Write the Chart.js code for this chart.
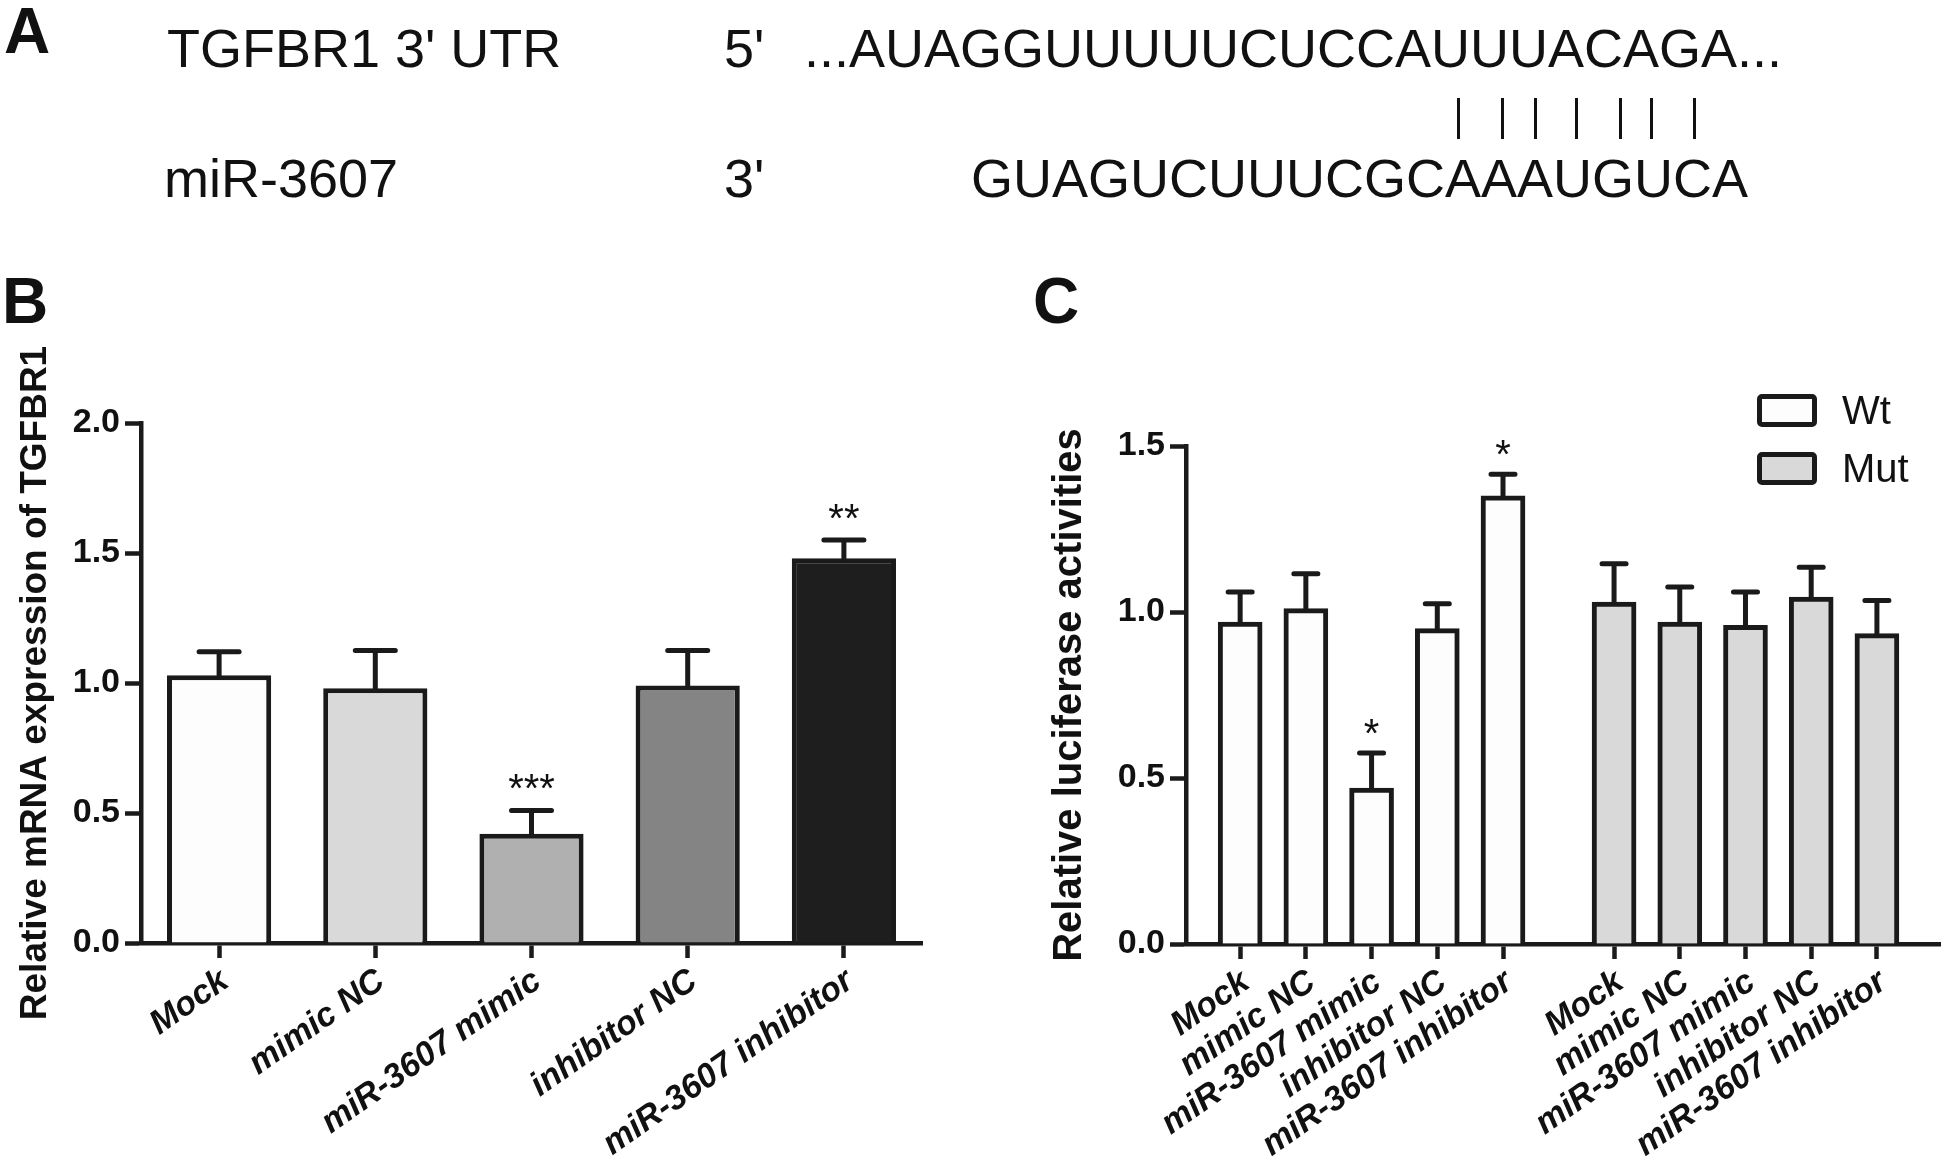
<!DOCTYPE html>
<html>
<head>
<meta charset="utf-8">
<title>miR-3607 / TGFBR1</title>
<script src="https://cdn.jsdelivr.net/npm/chart.js@4.4.1/dist/chart.umd.min.js"></script>
<style>
  html, body { margin: 0; padding: 0; background: #fff; }
  body { width: 1946px; height: 1175px; position: relative; overflow: hidden;
         font-family: "Liberation Sans", Arial, sans-serif; color: #111; }
  .abs { position: absolute; white-space: nowrap; line-height: 1; }
  .panel { font-weight: bold; font-size: 64px; }
  .seq { font-size: 54px; }
  .pair { position: absolute; width: 3px; height: 41px; background: #111; top: 98px; }
  .box { position: absolute; left: 1757px; width: 50px; height: 23px; border: 5px solid #1a1a1a; border-radius: 5px; }
  .legtext { font-family: "Liberation Sans Narrow", "Arial Narrow", "Liberation Sans", Arial, sans-serif; font-size: 40px; }
  .chartwrap { position: absolute; top: 320px; }
</style>
</head>
<body>

<!-- Panel A: binding site -->
<div class="abs panel" style="left:4px; top:-1px;">A</div>
<div class="abs seq" style="left:167px; top:21px;">TGFBR1 3' UTR</div>
<div class="abs seq" style="left:724px; top:21px;">5'</div>
<div class="abs seq" style="left:804px; top:21px;">...AUAGGUUUUUCUCCAUUUACAGA...</div>
<div class="pair" style="left:1457px;"></div>
<div class="pair" style="left:1501px;"></div>
<div class="pair" style="left:1534px;"></div>
<div class="pair" style="left:1575px;"></div>
<div class="pair" style="left:1619px;"></div>
<div class="pair" style="left:1650px;"></div>
<div class="pair" style="left:1693px;"></div>
<div class="abs seq" style="left:164px; top:151px;">miR-3607</div>
<div class="abs seq" style="left:724px; top:151px;">3'</div>
<div class="abs seq" style="left:971px; top:151px;">GUAGUCUUUCGCAAAUGUCA</div>

<!-- Panel letters -->
<div class="abs panel" style="left:2px; top:269px;">B</div>
<div class="abs panel" style="left:1033px; top:269px;">C</div>

<div class="chartwrap" style="left:0px;"><canvas id="chartB" width="960" height="855"></canvas></div>
<div class="chartwrap" style="left:1000px;"><canvas id="chartC" width="946" height="855"></canvas></div>

<!-- Legend for panel C -->
<div id="legendC"></div>

<script>
// ===========================
// Data
// ===========================

const groupLabels = ['Mock', 'mimic NC', 'miR-3607 mimic', 'inhibitor NC', 'miR-3607 inhibitor'];

// Panel B - relative mRNA expression of TGFBR1
const bMeans = [1.03, 0.98, 0.42, 0.99, 1.48];
const bErrors = [0.09, 0.145, 0.09, 0.135, 0.07];
const bSignif = ['', '', '***', '', '**'];
const bColors = ['#fdfdfd', '#d9d9d9', '#b0b0b0', '#848484', '#1e1e1e'];
const bTickValues = [0, 0.5, 1.0, 1.5, 2.0];

// Panel C - relative luciferase activities
const cSeriesNames = ['Wt', 'Mut'];
const cSeriesColors = ['#fdfdfd', '#d9d9d9'];
const cWtMeans = [0.97, 1.01, 0.47, 0.95, 1.35];
const cWtErrors = [0.09, 0.105, 0.105, 0.075, 0.065];
const cWtSignif = ['', '', '*', '', '*'];
const cMutMeans = [1.03, 0.97, 0.96, 1.045, 0.935];
const cMutErrors = [0.115, 0.105, 0.10, 0.09, 0.10];
const cMutSignif = ['', '', '', '', ''];
const cTickValues = [0, 0.5, 1.0, 1.5];

// ===========================
// Shared styling
// ===========================

const INK = '#1a1a1a';
const SANS = '"Liberation Sans", Arial, sans-serif';
const NARROW = '"Liberation Sans Narrow", "Arial Narrow", "Liberation Sans", Arial, sans-serif';
const GROUP_GAP = 0.69;   // extra space between the Wt and Mut groups, in bar slots

Chart.defaults.color = '#111';
Chart.defaults.animation = false;

// error bars (upper half only) + significance stars
const errorBarPlugin = {
    id: 'errorBars',
    afterDatasetsDraw(chart, args, opts) {
        const ctx = chart.ctx;
        const yScale = chart.scales.y;
        chart.data.datasets.forEach((ds, di) => {
            const meta = chart.getDatasetMeta(di);
            meta.data.forEach((bar, i) => {
                const raw = ds.data[i];
                const v = typeof raw === 'object' ? raw.y : raw;
                const top = yScale.getPixelForValue(v + ds.errors[i]);
                ctx.save();
                ctx.strokeStyle = INK;
                ctx.lineWidth = opts.width;
                ctx.lineCap = 'round';
                ctx.beginPath();
                ctx.moveTo(bar.x, bar.y);
                ctx.lineTo(bar.x, top);
                ctx.moveTo(bar.x - opts.cap / 2, top);
                ctx.lineTo(bar.x + opts.cap / 2, top);
                ctx.stroke();
                if (ds.signif && ds.signif[i]) {
                    ctx.fillStyle = '#111';
                    ctx.font = opts.starSize + 'px ' + SANS;
                    ctx.textAlign = 'center';
                    ctx.textBaseline = 'alphabetic';
                    ctx.fillText(ds.signif[i], bar.x, top - opts.starGap);
                }
                ctx.restore();
            });
        });
    }
};

function yAxis(max, ticks, title, titleSize, titlePad, width) {
    return {
        min: 0,
        max: max,
        afterBuildTicks: (axis) => { axis.ticks = ticks.map(v => ({ value: v })); },
        afterFit: (axis) => { axis.width = width; },
        ticks: {
            callback: (v) => Number(v).toFixed(1),
            font: { family: NARROW, size: 34, weight: 'bold' },
            color: '#111',
            padding: 5
        },
        grid: { drawOnChartArea: false, drawTicks: true, tickLength: 16, tickWidth: 4.5, tickColor: INK },
        border: { display: true, width: 4.5, color: INK },
        title: {
            display: true,
            text: title,
            font: { family: SANS, size: titleSize, weight: 'bold' },
            color: '#111',
            padding: { top: titlePad, bottom: 0 }
        }
    };
}

function xTickStyle() {
    return {
        autoSkip: false,
        minRotation: 35,
        maxRotation: 35,
        padding: 3,
        labelOffset: 6,
        font: { family: SANS, size: 34, weight: 'bold', style: 'italic' },
        color: '#111'
    };
}

const xGrid = { offset: false, drawOnChartArea: false, drawTicks: true, tickLength: 15, tickWidth: 4.5, tickColor: INK };
const xBorder = { display: true, width: 4.5, color: INK };

// ===========================
// Panel B
// ===========================

function createChartB() {
    const ctx = document.getElementById('chartB');
    new Chart(ctx, {
        type: 'bar',
        data: {
            labels: groupLabels,
            datasets: [{
                data: bMeans,
                errors: bErrors,
                signif: bSignif,
                backgroundColor: bColors,
                borderColor: INK,
                borderWidth: 5,
                categoryPercentage: 1,
                barPercentage: 0.667
            }]
        },
        options: {
            responsive: false,
            layout: { padding: { left: 0, top: 103, right: 38, bottom: 0 } },
            plugins: {
                legend: { display: false },
                tooltip: { enabled: false },
                errorBars: { width: 5, cap: 40, starSize: 40, starGap: 8 }
            },
            scales: {
                x: {
                    offset: true,
                    afterFit: (axis) => { axis.height = 232; },
                    ticks: xTickStyle(),
                    grid: xGrid,
                    border: xBorder
                },
                y: yAxis(2.0, bTickValues, 'Relative mRNA expression of TGFBR1', 37, 14, 141)
            }
        },
        plugins: [errorBarPlugin]
    });
}

// ===========================
// Panel C
// ===========================

function createChartC() {
    const ctx = document.getElementById('chartC');
    const wtPos = cWtMeans.map((_, i) => i + 1);
    const mutPos = cMutMeans.map((_, i) => i + 1 + cWtMeans.length + GROUP_GAP);
    const tickPos = wtPos.concat(mutPos);

    const xTicks = xTickStyle();
    xTicks.callback = (v, i) => groupLabels[i % groupLabels.length];

    new Chart(ctx, {
        type: 'bar',
        data: {
            datasets: [{
                label: cSeriesNames[0],
                data: cWtMeans.map((v, i) => ({ x: wtPos[i], y: v })),
                errors: cWtErrors,
                signif: cWtSignif,
                backgroundColor: cSeriesColors[0],
                borderColor: INK,
                borderWidth: 5,
                barThickness: 44,
                grouped: false
            }, {
                label: cSeriesNames[1],
                data: cMutMeans.map((v, i) => ({ x: mutPos[i], y: v })),
                errors: cMutErrors,
                signif: cMutSignif,
                backgroundColor: cSeriesColors[1],
                borderColor: INK,
                borderWidth: 5,
                barThickness: 44,
                grouped: false
            }]
        },
        options: {
            responsive: false,
            layout: { padding: { left: 0, top: 126, right: 6, bottom: 0 } },
            plugins: {
                legend: { display: false },
                tooltip: { enabled: false },
                errorBars: { width: 5, cap: 24, starSize: 40, starGap: 6 }
            },
            scales: {
                x: {
                    type: 'linear',
                    min: 0.176,
                    max: 11.65,
                    offset: false,
                    afterBuildTicks: (axis) => { axis.ticks = tickPos.map(v => ({ value: v })); },
                    afterFit: (axis) => { axis.height = 231; },
                    ticks: xTicks,
                    grid: xGrid,
                    border: xBorder
                },
                y: yAxis(1.5, cTickValues, 'Relative luciferase activities', 40, 46, 186)
            }
        },
        plugins: [errorBarPlugin]
    });
}

function buildLegendC() {
    const holder = document.getElementById('legendC');
    const tops = [394, 452];
    cSeriesNames.forEach((name, i) => {
        const box = document.createElement('div');
        box.className = 'box';
        box.style.top = tops[i] + 'px';
        box.style.background = cSeriesColors[i];
        holder.appendChild(box);

        const txt = document.createElement('div');
        txt.className = 'abs legtext';
        txt.style.left = '1842px';
        txt.style.top = (tops[i] - 4) + 'px';
        txt.textContent = name;
        holder.appendChild(txt);
    });
}

createChartB();
createChartC();
buildLegendC();
</script>
</body>
</html>
